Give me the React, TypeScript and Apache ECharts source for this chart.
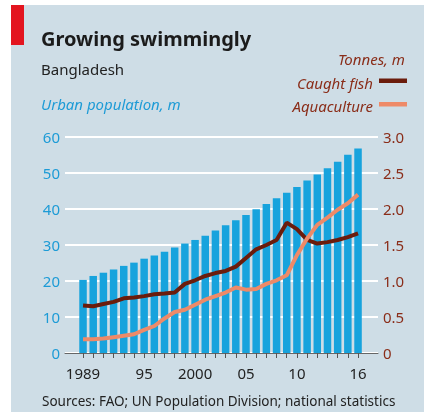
import React, { useEffect, useRef } from "react";
import * as echarts from "echarts";

const years = [
  1989, 1990, 1991, 1992, 1993, 1994, 1995, 1996, 1997, 1998, 1999, 2000, 2001, 2002,
  2003, 2004, 2005, 2006, 2007, 2008, 2009, 2010, 2011, 2012, 2013, 2014, 2015, 2016,
];
const urbanPopulation = [
  20.3, 21.4, 22.3, 23.2, 24.2, 25.1, 26.2, 27.1, 28.1, 29.3, 30.4, 31.4, 32.6, 34.0,
  35.5, 36.9, 38.3, 39.9, 41.4, 43.0, 44.5, 46.1, 47.9, 49.6, 51.3, 53.1, 55.1, 56.8,
];
const caughtFish = [
  0.66, 0.65, 0.68, 0.71, 0.76, 0.77, 0.79, 0.815, 0.825, 0.84, 0.96, 1.01, 1.07, 1.11,
  1.14, 1.2, 1.32, 1.44, 1.5, 1.57, 1.81, 1.72, 1.57, 1.52, 1.54, 1.57, 1.61, 1.66,
];
const aquaculture = [
  0.19, 0.19, 0.2, 0.22, 0.24, 0.26, 0.32, 0.375, 0.48, 0.57, 0.6, 0.67, 0.74, 0.79,
  0.84, 0.91, 0.88, 0.89, 0.96, 1.01, 1.08, 1.36, 1.59, 1.78, 1.88, 1.99, 2.08, 2.2,
];
const labelledYears = [1989, 1995, 2000, 2005, 2010, 2016];

const FONT = "'Noto Sans', sans-serif";
const BLUE_TXT = "#1d9bd6";
const BROWN_TXT = "#8a2d19";
const BAR = "#17a3dd";
const CAUGHT = "#6b1c0c";
const AQUA = "#ee8a68";

export default function App() {
  const ref = useRef<HTMLDivElement>(null);
  useEffect(() => {
    if (!ref.current) return;
    const chart = echarts.init(ref.current, null, { renderer: "svg" });
    chart.setOption({
      animation: false,
      textStyle: { fontFamily: FONT },
      grid: { left: 65, right: 46, top: 137, bottom: 64, containLabel: false },
      graphic: [
        { type: "rect", shape: { x: 11, y: 5, width: 413, height: 407 }, style: { fill: "#cedde6" }, z: -10 },
        { type: "rect", shape: { x: 11, y: 5, width: 13, height: 40 }, style: { fill: "#e3151f" } },
        { type: "text", x: 41, y: 38, style: { text: "Growing swimmingly", font: `bold 20px ${FONT}`, fill: "#1b1b1b", verticalAlign: "middle" } },
        { type: "text", x: 41, y: 69, style: { text: "Bangladesh", font: `15px ${FONT}`, fill: "#222", verticalAlign: "middle" } },
        { type: "text", x: 41, y: 104, style: { text: "Urban population, m", font: `italic 15px ${FONT}`, fill: BLUE_TXT, verticalAlign: "middle" } },
        { type: "text", x: 405, y: 59, style: { text: "Tonnes, m", font: `italic 15px ${FONT}`, fill: BROWN_TXT, align: "right", verticalAlign: "middle" } },
        { type: "text", x: 373, y: 83, style: { text: "Caught fish", font: `italic 15px ${FONT}`, fill: BROWN_TXT, align: "right", verticalAlign: "middle" } },
        { type: "rect", shape: { x: 379, y: 78.5, width: 28, height: 4.5 }, style: { fill: CAUGHT } },
        { type: "text", x: 373, y: 106, style: { text: "Aquaculture", font: `italic 15px ${FONT}`, fill: BROWN_TXT, align: "right", verticalAlign: "middle" } },
        { type: "rect", shape: { x: 379, y: 102, width: 28, height: 4.5 }, style: { fill: AQUA } },
        { type: "text", x: 42, y: 401, style: { text: "Sources: FAO; UN Population Division; national statistics", font: `13.5px ${FONT}`, fill: "#222", verticalAlign: "middle" } },
      ],
      xAxis: {
        type: "value",
        min: 1987.23,
        max: 2017.96,
        splitLine: { show: false },
        axisLine: { show: true, lineStyle: { color: "#666", width: 1 } },
        axisTick: { show: true, customValues: years, length: 5, lineStyle: { color: "#555" } },
        axisLabel: {
          customValues: labelledYears,
          color: "#222",
          fontSize: 15,
          margin: 12,
          formatter: (v: number) => (v === 1989 || v === 2000 ? String(v) : String(v).slice(2)),
        },
      },
      yAxis: [
        {
          type: "value",
          min: 0,
          max: 60,
          interval: 10,
          axisLine: { show: false },
          axisTick: { show: false },
          axisLabel: { color: BLUE_TXT, fontSize: 15, margin: 5 },
          splitLine: { show: true, lineStyle: { color: "#ffffff", width: 2 } },
        },
        {
          type: "value",
          min: 0,
          max: 3,
          interval: 0.5,
          axisLine: { show: false },
          axisTick: { show: false },
          axisLabel: {
            color: BROWN_TXT,
            fontSize: 15,
            margin: 5,
            formatter: (v: number) => (v === 0 ? "0" : v.toFixed(1)),
          },
          splitLine: { show: false },
        },
      ],
      series: [
        {
          type: "bar",
          name: "Urban population",
          data: years.map((y, i) => [y, urbanPopulation[i]]),
          barWidth: 7.5,
          itemStyle: { color: BAR },
          yAxisIndex: 0,
        },
        {
          type: "line",
          name: "Caught fish",
          data: years.map((y, i) => [y, caughtFish[i]]),
          yAxisIndex: 1,
          showSymbol: false,
          lineStyle: { color: CAUGHT, width: 4 },
          z: 3,
        },
        {
          type: "line",
          name: "Aquaculture",
          data: years.map((y, i) => [y, aquaculture[i]]),
          yAxisIndex: 1,
          showSymbol: false,
          lineStyle: { color: AQUA, width: 4 },
          z: 4,
        },
      ],
    });
    return () => chart.dispose();
  }, []);
  return <div ref={ref} style={{ position: "fixed", left: 0, top: 0, width: 424, height: 417 }} />;
}
